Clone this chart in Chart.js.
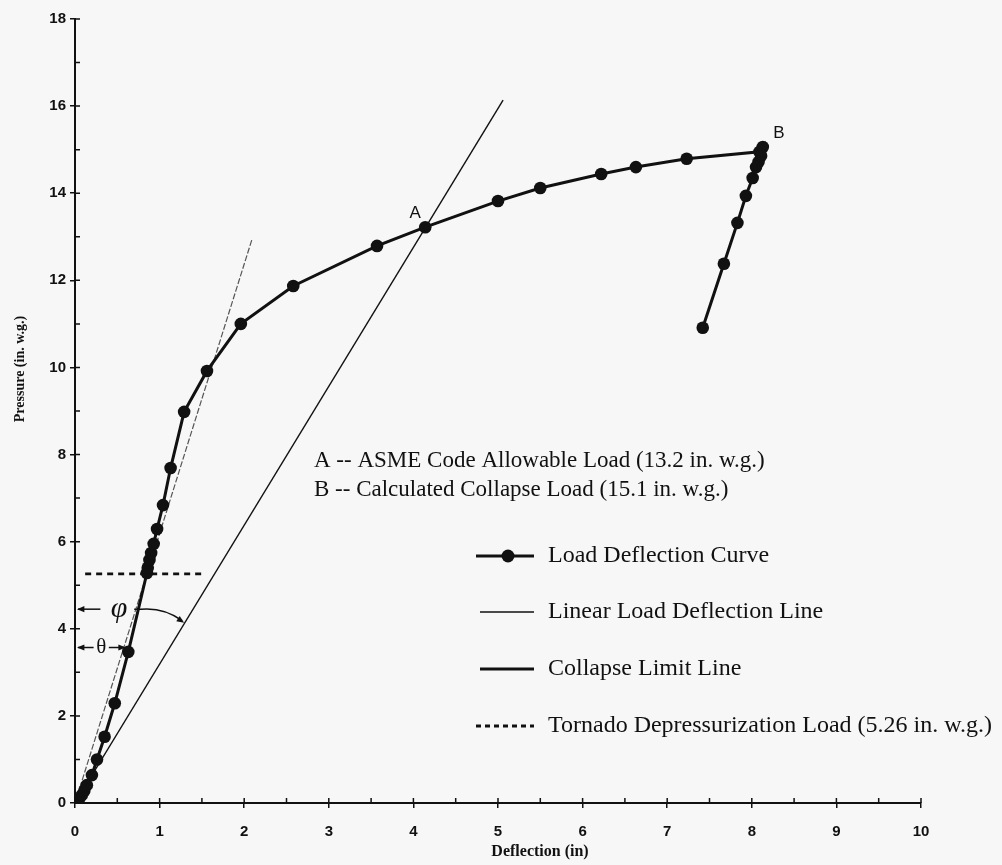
<!DOCTYPE html>
<html>
<head>
<meta charset="utf-8">
<title>Load Deflection Curve</title>
<script src="https://cdn.jsdelivr.net/npm/chart.js@4.4.0/dist/chart.umd.min.js"></script>
<style>
  html, body { margin: 0; padding: 0; background: #f7f7f7; }
  #wrap { width: 1002px; height: 865px; }
</style>
</head>
<body>
<div id="wrap"><canvas id="chart" width="1002" height="865"></canvas></div>
<script>
// Load deflection curve (deflection in, pressure in. w.g.)
const loadX = [0.02, 0.05, 0.08, 0.11, 0.14, 0.20, 0.26, 0.35, 0.47, 0.63, 0.85, 0.86, 0.88, 0.90, 0.93, 0.97, 1.04, 1.13, 1.29,
               1.56, 1.96, 2.58, 3.57, 4.14, 5.00, 5.50, 6.22, 6.63, 7.23, 8.09, 8.13, 8.11, 8.08, 8.05, 8.01, 7.93, 7.83, 7.67, 7.42];
const loadY = [0.05, 0.10, 0.18, 0.28, 0.41, 0.64, 1.00, 1.52, 2.29, 3.47, 5.28, 5.40, 5.58, 5.74, 5.95, 6.29, 6.84, 7.69, 8.98,
               9.92, 11.00, 11.87, 12.79, 13.22, 13.82, 14.12, 14.44, 14.60, 14.79, 14.95, 15.06, 14.86, 14.72, 14.60, 14.35, 13.94, 13.32, 12.38, 10.91];

// Linear load deflection line (initial slope, angle theta)
const linearX = [0, 2.09];
const linearY = [0, 12.93];

// Collapse limit line (angle phi, tan phi = 2 tan theta)
const collapseX = [0, 5.06];
const collapseY = [0, 16.14];

// Tornado depressurization load
const tornadoX = [0.12, 1.55];
const tornadoY = [5.26, 5.26];

const xTitle = 'Deflection (in)';
const yTitle = 'Pressure (in. w.g.)';
const seriesNames = ['Load Deflection Curve', 'Linear Load Deflection Line', 'Collapse Limit Line', 'Tornado Depressurization Load (5.26 in. w.g.)'];
const noteA = 'A -- ASME Code Allowable Load (13.2 in. w.g.)';
const noteB = 'B -- Calculated Collapse Load (15.1 in. w.g.)';

const pts = (xs, ys) => xs.map((x, i) => ({ x, y: ys[i] }));

const INK = '#111';
const SERIF = '"Liberation Serif", "Times New Roman", serif';
const SANS = '"Liberation Sans", Arial, sans-serif';

function arrowHead(ctx, x, y, ang, size) {
  ctx.beginPath();
  ctx.moveTo(x, y);
  ctx.lineTo(x - size * Math.cos(ang - 0.4), y - size * Math.sin(ang - 0.4));
  ctx.lineTo(x - size * Math.cos(ang + 0.4), y - size * Math.sin(ang + 0.4));
  ctx.closePath();
  ctx.fill();
}

const overlay = {
  id: 'overlay',
  beforeDraw(chart) {
    const ctx = chart.ctx;
    ctx.save();
    ctx.fillStyle = '#f7f7f7';
    ctx.fillRect(0, 0, chart.width, chart.height);
    ctx.restore();
  },
  afterDraw(chart) {
    const { ctx, chartArea: a, scales: { x, y } } = chart;
    const px = v => x.getPixelForValue(v);
    const py = v => y.getPixelForValue(v);
    ctx.save();
    ctx.strokeStyle = INK;
    ctx.fillStyle = INK;

    // ticks on the inside of the axes
    ctx.lineWidth = 1.5;
    ctx.beginPath();
    x.ticks.forEach(t => { const p = px(t.value); ctx.moveTo(p, a.bottom); ctx.lineTo(p, a.bottom - 5); });
    y.ticks.forEach(t => { const p = py(t.value); ctx.moveTo(a.left, p); ctx.lineTo(a.left + 5, p); });
    ctx.stroke();

    // axis titles
    ctx.textAlign = 'center';
    ctx.textBaseline = 'middle';
    ctx.font = 'bold 16px ' + SERIF;
    ctx.fillText(xTitle, 540, 852);
    ctx.save();
    ctx.translate(20, 369);
    ctx.rotate(-Math.PI / 2);
    ctx.font = 'bold 14px ' + SERIF;
    ctx.fillText(yTitle, 0, 0);
    ctx.restore();

    // point labels
    ctx.font = '17px ' + SANS;
    ctx.fillText('A', px(4.02), py(13.53));
    ctx.fillText('B', px(8.32), py(15.37));

    // notes
    ctx.textAlign = 'left';
    ctx.font = '23px ' + SERIF;
    ctx.fillText(noteA, 314, 461);
    ctx.fillText(noteB, 314, 490);

    // legend
    const ly = [556, 612, 669, 726];
    const tx = 548;
    ctx.lineWidth = 3;
    ctx.beginPath(); ctx.moveTo(476, ly[0]); ctx.lineTo(534, ly[0]); ctx.stroke();
    ctx.beginPath(); ctx.arc(508, ly[0], 6.5, 0, Math.PI * 2); ctx.fill();
    ctx.lineWidth = 1.5;
    ctx.beginPath(); ctx.moveTo(480, ly[1]); ctx.lineTo(534, ly[1]); ctx.stroke();
    ctx.lineWidth = 3;
    ctx.beginPath(); ctx.moveTo(480, ly[2]); ctx.lineTo(534, ly[2]); ctx.stroke();
    ctx.setLineDash([5, 4]);
    ctx.beginPath(); ctx.moveTo(476, ly[3]); ctx.lineTo(534, ly[3]); ctx.stroke();
    ctx.setLineDash([]);
    ctx.font = '24px ' + SERIF;
    seriesNames.forEach((s, i) => ctx.fillText(s, tx, ly[i]));

    // angle marks: phi (to collapse limit line) and theta (to linear line)
    ctx.lineWidth = 1.5;
    const yPhi = py(4.45);
    ctx.beginPath(); ctx.moveTo(px(0.3), yPhi); ctx.lineTo(a.left + 3, yPhi); ctx.stroke();
    arrowHead(ctx, a.left + 2, yPhi, Math.PI, 8);
    const endX = px(1.29), endY = py(4.14);
    ctx.beginPath();
    ctx.moveTo(px(0.7), yPhi);
    ctx.lineTo(px(0.78), yPhi);
    ctx.quadraticCurveTo(px(1.05), yPhi - 2, endX - 2, endY - 2);
    ctx.stroke();
    arrowHead(ctx, endX, endY, Math.atan2(endY - yPhi, endX - px(1.05)), 8);

    const yTh = py(3.57);
    ctx.beginPath(); ctx.moveTo(a.left + 3, yTh); ctx.lineTo(px(0.22), yTh); ctx.stroke();
    ctx.beginPath(); ctx.moveTo(px(0.4), yTh); ctx.lineTo(px(0.58), yTh); ctx.stroke();
    arrowHead(ctx, a.left + 2, yTh, Math.PI, 8);
    arrowHead(ctx, px(0.6), yTh, 0, 8);

    ctx.textAlign = 'center';
    ctx.font = 'italic 30px ' + SERIF;
    ctx.fillText('\u03C6', px(0.52), yPhi);
    ctx.font = '21px ' + SERIF;
    ctx.fillText('\u03B8', px(0.31), yTh);
    ctx.restore();
  }
};

const tickFont = { family: SANS, size: 15, weight: 'bold' };

new Chart(document.getElementById('chart'), {
  type: 'scatter',
  data: {
    datasets: [
      { label: seriesNames[0], data: pts(loadX, loadY), showLine: true, borderColor: INK, backgroundColor: INK,
        borderWidth: 3, pointRadius: 6.3, pointHoverRadius: 6.3, pointBorderWidth: 0 },
      { label: seriesNames[1], data: pts(linearX, linearY), showLine: true, borderColor: '#555',
        borderWidth: 1.2, borderDash: [6, 2], pointRadius: 0 },
      { label: seriesNames[2], data: pts(collapseX, collapseY), showLine: true, borderColor: INK,
        borderWidth: 1.4, pointRadius: 0 },
      { label: seriesNames[3], data: pts(tornadoX, tornadoY), showLine: true, borderColor: INK,
        borderWidth: 2.8, borderDash: [6, 5], pointRadius: 0 }
    ]
  },
  options: {
    responsive: false,
    animation: false,
    layout: { padding: { top: 19, right: 81, left: 0, bottom: 0 } },
    plugins: { legend: { display: false }, tooltip: { enabled: false } },
    scales: {
      x: {
        type: 'linear', min: 0, max: 10,
        afterFit: s => { s.height = 62; },
        ticks: { stepSize: 0.5, autoSkip: false, maxRotation: 0, padding: 15, color: INK, font: tickFont,
                 callback: v => Number.isInteger(v) ? v : '' },
        grid: { drawOnChartArea: false, tickLength: 5, lineWidth: 1.5,
                color: c => (c.tick && Number.isInteger(c.tick.value)) ? INK : 'rgba(0,0,0,0)' },
        border: { color: INK, width: 2 }
      },
      y: {
        type: 'linear', min: 0, max: 18,
        afterFit: s => { s.width = 75; },
        ticks: { stepSize: 1, autoSkip: false, padding: 4, color: INK, font: tickFont,
                 callback: v => v % 2 === 0 ? v : '' },
        grid: { drawOnChartArea: false, tickLength: 5, lineWidth: 1.5,
                color: c => (c.tick && c.tick.value % 2 === 0) ? INK : 'rgba(0,0,0,0)' },
        border: { color: INK, width: 2 }
      }
    }
  },
  plugins: [overlay]
});
</script>
</body>
</html>
